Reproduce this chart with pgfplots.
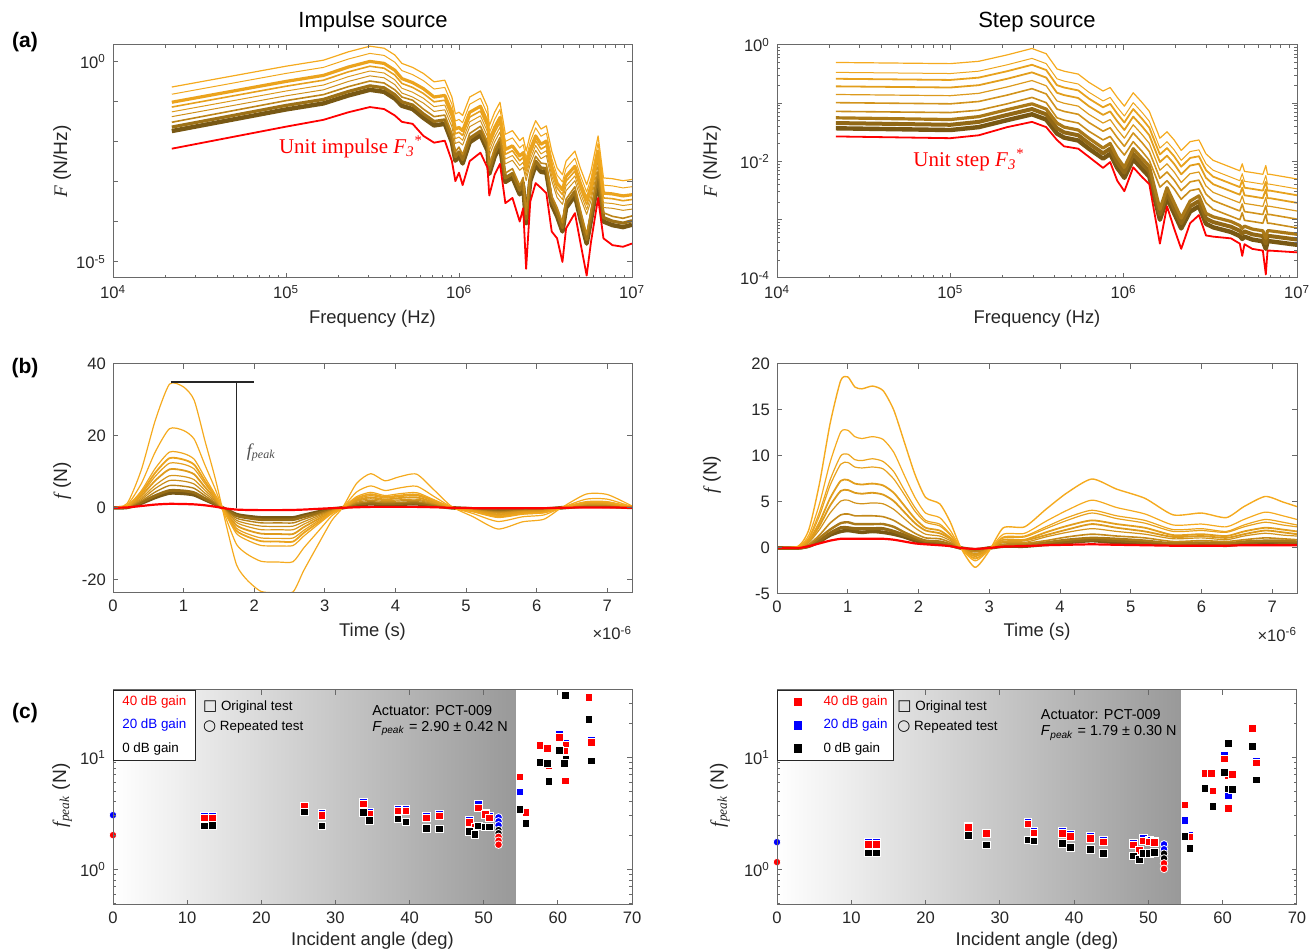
\documentclass[border=0pt]{standalone}
\usepackage{pgfplots}
\pgfplotsset{compat=1.18}
\usepackage{pgfplotstable}
\usepackage{fontspec}
\setmainfont{Liberation Sans}
\newfontfamily\tms{Liberation Serif}
\newfontfamily\dejavu{DejaVu Sans}
\definecolor{orng}{RGB}{245,170,30}
\definecolor{brwn}{RGB}{120,88,20}
\definecolor{fr}{RGB}{105,105,105}
\definecolor{tk}{RGB}{38,38,38}
\definecolor{mred}{RGB}{255,0,0}
\definecolor{mblue}{RGB}{0,0,255}

\pgfplotsset{base/.style={scale only axis, axis on top, anchor=south west, tick align=inside,
  axis line style={fr, line width=0.5pt}, every tick/.append style={fr, line width=0.5pt},
  major tick length=2.6pt, minor tick length=1.5pt,
  tick label style={font=\fontsize{8.3}{9.5}\selectfont, text=tk},
  xlabel style={font=\fontsize{9.2}{11}\selectfont, text=tk, anchor=center},
  ylabel style={font=\fontsize{9.6}{11}\selectfont, text=tk, anchor=center},
  /pgf/number format/assume math mode=true, clip mode=individual},
  cv/.style={no markers, line join=round}}

% ---------- (a) impulse spectra: log10(f), log10(F) ----------
\pgfplotstableread{
x R C1 C2 C3 C4 C5 C6 B1 B2 B3
4.340 -2.17 -0.63 -0.81 -1.01 -1.13 -1.25 -1.37 -1.51 -1.63 -1.73
5.000 -1.62 -0.11 -0.29 -0.49 -0.61 -0.73 -0.85 -0.97 -1.09 -1.19
5.216 -1.45 0.04 -0.14 -0.34 -0.46 -0.58 -0.70 -0.82 -0.94 -1.04
5.361 -1.26 0.25 0.07 -0.13 -0.25 -0.37 -0.49 -0.62 -0.74 -0.84
5.485 -1.13 0.39 0.21 0.01 -0.11 -0.23 -0.35 -0.48 -0.60 -0.70
5.567 -1.18 0.34 0.16 -0.04 -0.16 -0.28 -0.40 -0.53 -0.65 -0.75
5.629 -1.34 0.17 -0.01 -0.21 -0.33 -0.45 -0.57 -0.70 -0.82 -0.92
5.670 -1.50 -0.04 -0.22 -0.42 -0.54 -0.66 -0.78 -0.88 -1.00 -1.10
5.732 -1.55 -0.14 -0.32 -0.52 -0.64 -0.76 -0.88 -0.96 -1.08 -1.18
5.794 -1.85 -0.29 -0.47 -0.67 -0.79 -0.91 -1.03 -1.18 -1.30 -1.40
5.856 -2.02 -0.50 -0.68 -0.88 -1.00 -1.12 -1.24 -1.37 -1.49 -1.59
5.918 -1.97 -0.46 -0.64 -0.84 -0.96 -1.08 -1.20 -1.33 -1.45 -1.55
5.959 -2.48 -0.88 -1.06 -1.26 -1.38 -1.50 -1.62 -1.79 -1.91 -2.01
5.979 -2.98 -1.30 -1.48 -1.68 -1.80 -1.92 -2.04 -2.25 -2.37 -2.47
6.000 -2.77 -1.26 -1.44 -1.64 -1.76 -1.88 -2.00 -2.13 -2.25 -2.35
6.021 -3.08 -1.34 -1.52 -1.72 -1.84 -1.96 -2.08 -2.32 -2.44 -2.54
6.062 -2.48 -0.88 -1.06 -1.26 -1.38 -1.50 -1.62 -1.79 -1.91 -2.01
6.124 -2.27 -0.73 -0.91 -1.11 -1.23 -1.35 -1.47 -1.61 -1.73 -1.83
6.165 -2.65 -1.13 -1.31 -1.51 -1.63 -1.75 -1.87 -2.00 -2.12 -2.22
6.175 -3.34 -1.60 -1.78 -1.98 -2.10 -2.22 -2.34 -2.58 -2.70 -2.80
6.206 -2.82 -1.26 -1.44 -1.64 -1.76 -1.88 -2.00 -2.15 -2.27 -2.37
6.237 -2.55 -1.01 -1.19 -1.39 -1.51 -1.63 -1.75 -1.89 -2.01 -2.11
6.268 -3.53 -1.81 -1.99 -2.19 -2.31 -2.43 -2.55 -2.78 -2.90 -3.00
6.309 -3.40 -1.72 -1.90 -2.10 -2.22 -2.34 -2.46 -2.67 -2.79 -2.89
6.351 -3.99 -1.97 -2.15 -2.35 -2.47 -2.59 -2.71 -3.09 -3.21 -3.31
6.371 -3.66 -1.89 -2.07 -2.27 -2.39 -2.51 -2.63 -2.89 -3.01 -3.11
6.388 -5.17 -2.23 -2.41 -2.61 -2.73 -2.85 -2.97 -3.81 -3.93 -4.03
6.412 -3.49 -1.81 -1.99 -2.19 -2.31 -2.43 -2.55 -2.76 -2.88 -2.98
6.443 -3.03 -1.47 -1.65 -1.85 -1.97 -2.09 -2.21 -2.36 -2.48 -2.58
6.474 -3.15 -1.68 -1.86 -2.06 -2.18 -2.30 -2.42 -2.53 -2.65 -2.75
6.505 -3.28 -1.60 -1.78 -1.98 -2.10 -2.22 -2.34 -2.55 -2.67 -2.77
6.536 -4.24 -2.23 -2.41 -2.61 -2.73 -2.85 -2.97 -3.35 -3.47 -3.57
6.567 -4.41 -2.65 -2.83 -3.03 -3.15 -3.27 -3.39 -3.64 -3.76 -3.86
6.598 -5.00 -2.82 -3.00 -3.20 -3.32 -3.44 -3.56 -4.02 -4.14 -4.24
6.619 -4.16 -2.48 -2.66 -2.86 -2.98 -3.10 -3.22 -3.43 -3.55 -3.65
6.670 -3.78 -2.23 -2.41 -2.61 -2.73 -2.85 -2.97 -3.12 -3.24 -3.34
6.701 -4.50 -2.65 -2.83 -3.03 -3.15 -3.27 -3.39 -3.69 -3.81 -3.91
6.738 -5.34 -3.07 -3.25 -3.45 -3.57 -3.69 -3.81 -4.32 -4.44 -4.54
6.763 -4.50 -2.73 -2.91 -3.11 -3.23 -3.35 -3.47 -3.73 -3.85 -3.95
6.804 -3.40 -1.85 -2.03 -2.23 -2.35 -2.47 -2.59 -2.74 -2.86 -2.96
6.835 -4.41 -2.90 -3.08 -3.28 -3.40 -3.52 -3.64 -3.77 -3.89 -3.99
6.887 -4.58 -2.92 -3.10 -3.30 -3.42 -3.54 -3.66 -3.86 -3.98 -4.08
6.948 -4.62 -2.97 -3.15 -3.35 -3.47 -3.59 -3.71 -3.91 -4.03 -4.13
7.000 -4.54 -2.94 -3.12 -3.32 -3.44 -3.56 -3.68 -3.85 -3.97 -4.07
}\tabAL

% ---------- (a) step spectra ----------
\pgfplotstableread{
x R S1 S2 S3 S4 S5 S6 S7 S8 S9 S10
4.340 -1.57 -0.30 -0.47 -0.58 -0.71 -0.85 -0.99 -1.14 -1.25 -1.34 -1.43
5.000 -1.60 -0.32 -0.49 -0.60 -0.73 -0.87 -1.01 -1.16 -1.28 -1.37 -1.46
5.164 -1.55 -0.28 -0.45 -0.56 -0.69 -0.83 -0.97 -1.12 -1.23 -1.32 -1.41
5.328 -1.41 -0.17 -0.34 -0.45 -0.58 -0.72 -0.86 -1.01 -1.11 -1.20 -1.29
5.471 -1.32 -0.06 -0.23 -0.34 -0.47 -0.61 -0.75 -0.90 -1.01 -1.10 -1.19
5.553 -1.41 -0.15 -0.32 -0.43 -0.56 -0.70 -0.84 -0.99 -1.10 -1.19 -1.28
5.615 -1.63 -0.41 -0.58 -0.69 -0.82 -0.96 -1.10 -1.25 -1.34 -1.43 -1.52
5.656 -1.74 -0.45 -0.62 -0.73 -0.86 -1.00 -1.14 -1.29 -1.41 -1.50 -1.59
5.738 -1.78 -0.50 -0.67 -0.78 -0.91 -1.05 -1.19 -1.34 -1.46 -1.55 -1.64
5.799 -1.92 -0.64 -0.81 -0.92 -1.05 -1.19 -1.33 -1.48 -1.60 -1.69 -1.78
5.881 -2.11 -0.79 -0.96 -1.07 -1.20 -1.34 -1.48 -1.63 -1.77 -1.86 -1.95
5.922 -2.01 -0.73 -0.90 -1.01 -1.14 -1.28 -1.42 -1.57 -1.69 -1.78 -1.87
5.963 -2.33 -0.90 -1.07 -1.18 -1.31 -1.45 -1.59 -1.74 -1.93 -2.02 -2.11
6.004 -2.51 -1.05 -1.22 -1.33 -1.46 -1.60 -1.74 -1.89 -2.10 -2.19 -2.28
6.055 -2.10 -0.82 -0.99 -1.10 -1.23 -1.37 -1.51 -1.66 -1.78 -1.87 -1.96
6.107 -2.27 -0.99 -1.16 -1.27 -1.40 -1.54 -1.68 -1.83 -1.95 -2.04 -2.13
6.148 -2.39 -1.14 -1.31 -1.42 -1.55 -1.69 -1.83 -1.98 -2.08 -2.17 -2.26
6.209 -3.41 -1.60 -1.77 -1.88 -2.01 -2.15 -2.29 -2.44 -2.82 -2.91 -3.00
6.250 -2.77 -1.49 -1.66 -1.77 -1.90 -2.04 -2.18 -2.33 -2.45 -2.54 -2.63
6.291 -3.15 -1.63 -1.80 -1.91 -2.04 -2.18 -2.32 -2.47 -2.71 -2.80 -2.89
6.332 -3.50 -1.81 -1.98 -2.09 -2.22 -2.36 -2.50 -2.65 -2.97 -3.06 -3.15
6.383 -3.06 -1.66 -1.83 -1.94 -2.07 -2.21 -2.35 -2.50 -2.68 -2.77 -2.86
6.434 -2.92 -1.63 -1.80 -1.91 -2.04 -2.18 -2.32 -2.47 -2.59 -2.68 -2.77
6.475 -3.27 -1.87 -2.04 -2.15 -2.28 -2.42 -2.56 -2.71 -2.89 -2.98 -3.07
6.516 -3.29 -1.98 -2.15 -2.26 -2.39 -2.53 -2.67 -2.82 -2.95 -3.04 -3.13
6.619 -3.32 -2.10 -2.27 -2.38 -2.51 -2.65 -2.79 -2.94 -3.03 -3.12 -3.21
6.670 -3.41 -2.16 -2.33 -2.44 -2.57 -2.71 -2.85 -3.00 -3.10 -3.19 -3.28
6.684 -3.62 -2.04 -2.21 -2.32 -2.45 -2.59 -2.73 -2.88 -3.15 -3.24 -3.33
6.697 -3.42 -2.17 -2.34 -2.45 -2.58 -2.72 -2.86 -3.01 -3.11 -3.20 -3.29
6.742 -3.50 -2.19 -2.36 -2.47 -2.60 -2.74 -2.88 -3.03 -3.16 -3.25 -3.34
6.803 -3.53 -2.22 -2.39 -2.50 -2.63 -2.77 -2.91 -3.06 -3.19 -3.28 -3.37
6.820 -3.94 -2.07 -2.24 -2.35 -2.48 -2.62 -2.76 -2.91 -3.32 -3.41 -3.50
6.830 -3.53 -2.22 -2.39 -2.50 -2.63 -2.77 -2.91 -3.06 -3.19 -3.28 -3.37
6.844 -3.53 -2.22 -2.39 -2.50 -2.63 -2.77 -2.91 -3.06 -3.19 -3.28 -3.37
7.000 -3.56 -2.30 -2.47 -2.58 -2.71 -2.85 -2.99 -3.14 -3.25 -3.34 -3.43
}\tabAR

% ---------- (b) impulse time signals (t in 1e-6 s) ----------
\pgfplotstableread{
t A a64 a45 a40 a36 a31 a26 a22 a18 a14 a12 R
0 0 0 0 0 0 0 0 0 0 0 0 0
0.2 1.2 0.8 0.5 0.5 0.4 0.4 0.3 0.3 0.2 0.2 0.1 0.1
0.4 10.5 6.7 4.7 4.2 3.8 3.3 2.7 2.3 1.9 1.5 1.3 0.5
0.6 24.4 15.6 11.0 9.8 8.8 7.6 6.3 5.4 4.4 3.4 2.9 0.9
0.8 34.4 22.0 15.5 13.8 12.4 10.7 8.9 7.6 6.2 4.8 4.1 1.1
1.0 33.6 21.5 15.1 13.4 12.1 10.4 8.7 7.4 6.0 4.7 4.0 1.05
1.15 29.9 19.1 13.5 12.0 10.8 9.3 7.8 6.6 5.4 4.2 3.6 0.95
1.3 18.8 12.0 8.5 7.5 6.8 5.8 4.9 4.1 3.4 2.6 2.3 0.7
1.45 8.0 5.1 3.6 3.2 2.9 2.5 2.1 1.8 1.4 1.1 1.0 0.3
1.6 -4.5 -2.9 -2.0 -1.8 -1.6 -1.4 -1.2 -1.0 -0.8 -0.6 -0.5 -0.2
1.75 -15.9 -10.2 -7.2 -6.4 -5.7 -4.9 -4.1 -3.5 -2.9 -2.2 -1.9 -0.5
1.9 -20.1 -12.9 -9.0 -8.0 -7.2 -6.2 -5.2 -4.4 -3.6 -2.8 -2.4 -0.6
2.1 -23.3 -14.9 -10.5 -9.3 -8.4 -7.2 -6.1 -5.1 -4.2 -3.3 -2.8 -0.65
2.35 -23.6 -15.1 -10.6 -9.4 -8.5 -7.3 -6.1 -5.2 -4.2 -3.3 -2.8 -0.65
2.55 -23.4 -15.0 -10.5 -9.4 -8.4 -7.3 -6.1 -5.1 -4.2 -3.3 -2.8 -0.6
2.7 -17.5 -11.2 -7.9 -7.0 -6.3 -5.4 -4.6 -3.9 -3.2 -2.5 -2.1 -0.5
2.9 -10.4 -6.7 -4.7 -4.2 -3.7 -3.2 -2.7 -2.3 -1.9 -1.5 -1.2 -0.3
3.1 -3.5 -2.2 -1.6 -1.4 -1.3 -1.1 -0.9 -0.8 -0.6 -0.5 -0.4 -0.1
3.25 0 0 0 0 0 0 0 0 0 0 0 0
3.45 6.8 4.4 3.1 2.7 2.4 2.1 1.8 1.5 1.2 1.0 0.8 0.15
3.65 9.5 6.1 4.3 3.8 3.4 2.9 2.5 2.1 1.7 1.3 1.1 0.25
3.85 7.5 4.8 3.4 3.0 2.7 2.3 2.0 1.7 1.4 1.1 0.9 0.25
4.05 8.6 5.5 3.9 3.4 3.1 2.7 2.2 1.9 1.5 1.2 1.0 0.25
4.3 9.35 6.0 4.2 3.7 3.4 2.9 2.4 2.1 1.7 1.3 1.1 0.25
4.55 4.9 3.1 2.2 2.0 1.8 1.5 1.3 1.1 0.9 0.7 0.6 0.15
4.8 0.3 0.2 0.1 0.1 0.1 0.1 0.1 0.1 0.1 0.0 0.0 0
5.1 -2.5 -1.6 -1.1 -1.0 -0.9 -0.8 -0.7 -0.6 -0.5 -0.4 -0.3 -0.1
5.45 -5.9 -3.8 -2.7 -2.4 -2.1 -1.8 -1.5 -1.3 -1.1 -0.8 -0.7 -0.15
5.8 -3.9 -2.5 -1.8 -1.6 -1.4 -1.2 -1.0 -0.9 -0.7 -0.5 -0.5 -0.1
6.1 -3.2 -2.0 -1.4 -1.3 -1.2 -1.0 -0.8 -0.7 -0.6 -0.4 -0.4 -0.1
6.35 0 0 0 0 0 0 0 0 0 0 0 0
6.7 3.8 2.4 1.7 1.5 1.4 1.2 1.0 0.8 0.7 0.5 0.5 0.1
7.0 3.7 2.4 1.7 1.5 1.3 1.1 1.0 0.8 0.7 0.5 0.4 0.1
7.35 0.5 0.3 0.2 0.2 0.2 0.2 0.1 0.1 0.1 0.1 0.1 0
}\tabBL

% ---------- (b) step time signals ----------
\pgfplotstableread{
t A b69 b55 b50 b40 b34 b28 b20 b15 b12 b10 R
0 0 0 0 0 0 0 0 0 0 0 0 0
0.3 0.2 0.1 0.1 0.1 0.1 0.1 0.1 0.0 0.0 0.0 0.0 0.0
0.45 2.0 1.4 1.1 1.0 0.8 0.7 0.6 0.4 0.3 0.2 0.2 0.2
0.6 7.0 4.8 3.9 3.5 2.8 2.4 2.0 1.4 1.1 0.8 0.7 0.5
0.75 13.5 9.3 7.4 6.8 5.4 4.6 3.8 2.7 2.0 1.6 1.4 0.8
0.9 18.2 12.6 10.0 9.1 7.3 6.2 5.1 3.6 2.7 2.2 1.8 1.0
1.0 18.6 12.8 10.2 9.3 7.4 6.3 5.2 3.7 2.8 2.2 1.9 1.0
1.1 17.5 12.1 9.6 8.8 7.0 6.0 4.9 3.5 2.6 2.1 1.8 1.0
1.2 17.3 11.9 9.5 8.7 6.9 5.9 4.8 3.5 2.6 2.1 1.7 1.0
1.35 17.6 12.1 9.7 8.8 7.0 6.0 4.9 3.5 2.6 2.1 1.8 1.0
1.5 17.1 11.8 9.4 8.6 6.8 5.8 4.8 3.4 2.6 2.1 1.7 1.0
1.65 15.0 10.4 8.3 7.5 6.0 5.1 4.2 3.0 2.3 1.8 1.5 0.9
1.8 11.5 7.9 6.3 5.8 4.6 3.9 3.2 2.3 1.7 1.4 1.2 0.7
1.95 8.0 5.5 4.4 4.0 3.2 2.7 2.2 1.6 1.2 1.0 0.8 0.5
2.1 5.5 3.8 3.0 2.8 2.2 1.9 1.5 1.1 0.8 0.7 0.6 0.4
2.3 4.8 3.3 2.6 2.4 1.9 1.6 1.3 1.0 0.7 0.6 0.5 0.3
2.45 2.8 1.9 1.5 1.4 1.1 1.0 0.8 0.6 0.4 0.3 0.3 0.2
2.6 0 0 0 0 0 0 0 0 0 0 0 0
2.8 -2.1 -1.4 -1.2 -1.1 -0.9 -0.7 -0.6 -0.4 -0.3 -0.3 -0.2 -0.1
3.0 -0.3 -0.2 -0.2 -0.2 -0.1 -0.1 -0.1 -0.1 0.0 0.0 0.0 0.0
3.2 2.2 1.5 1.2 1.1 0.9 0.7 0.6 0.4 0.3 0.3 0.2 0.15
3.5 2.3 1.6 1.3 1.2 0.9 0.8 0.6 0.5 0.3 0.3 0.2 0.2
3.8 4.2 2.9 2.3 2.1 1.7 1.4 1.2 0.8 0.6 0.5 0.4 0.3
4.1 6.0 4.1 3.3 3.0 2.4 2.0 1.7 1.2 0.9 0.7 0.6 0.35
4.45 7.5 5.2 4.1 3.8 3.0 2.6 2.1 1.5 1.1 0.9 0.8 0.4
4.8 6.4 4.4 3.5 3.2 2.6 2.2 1.8 1.3 1.0 0.8 0.6 0.35
5.2 5.4 3.7 3.0 2.7 2.2 1.8 1.5 1.1 0.8 0.6 0.5 0.3
5.6 3.6 2.5 2.0 1.8 1.4 1.2 1.0 0.7 0.5 0.4 0.4 0.25
6.0 3.8 2.6 2.1 1.9 1.5 1.3 1.1 0.8 0.6 0.5 0.4 0.25
6.35 3.3 2.3 1.8 1.7 1.3 1.1 0.9 0.7 0.5 0.4 0.3 0.25
6.6 4.5 3.1 2.5 2.3 1.8 1.5 1.3 0.9 0.7 0.5 0.5 0.3
6.9 5.6 3.9 3.1 2.8 2.2 1.9 1.6 1.1 0.8 0.7 0.6 0.3
7.15 5.0 3.5 2.8 2.5 2.0 1.7 1.4 1.0 0.8 0.6 0.5 0.3
7.35 4.5 3.1 2.5 2.3 1.8 1.5 1.3 0.9 0.7 0.5 0.5 0.3
}\tabBR

\begin{document}
\begin{tikzpicture}
\path[use as bounding box] (0,0) rectangle (658pt,476pt);

% titles and panel letters
\node[font=\fontsize{11}{13}\selectfont, text=black] at (186.5pt,465pt) {Impulse source};
\node[font=\fontsize{11}{13}\selectfont, text=black] at (518.5pt,465pt) {Step source};
\node[font=\bfseries\fontsize{10.5}{12}\selectfont] at (12.5pt,455pt) {(a)};
\node[font=\bfseries\fontsize{10.5}{12}\selectfont] at (12.5pt,292pt) {(b)};
\node[font=\bfseries\fontsize{10.5}{12}\selectfont] at (12.5pt,119.5pt) {(c)};

% ================= (a) left =================
\begin{axis}[base, at={(56.5pt,337pt)}, width=259.5pt, height=116.5pt,
  xmin=4, xmax=7, ymin=-5.4, ymax=0.42,
  xtick={4,5,6,7}, xticklabels={10\textsuperscript{4},10\textsuperscript{5},10\textsuperscript{6},10\textsuperscript{7}},
  minor xtick={4.301,4.477,4.602,4.699,4.778,4.845,4.903,4.954,5.301,5.477,5.602,5.699,5.778,5.845,5.903,5.954,6.301,6.477,6.602,6.699,6.778,6.845,6.903,6.954},
  ytick={-5,-4,-3,-2,-1,0}, yticklabels={10\textsuperscript{-5},,,,,10\textsuperscript{0}},
  xlabel={Frequency (Hz)}, ylabel={{\tms\itshape F} (N/Hz)},
  xlabel style={at={(axis description cs:0.5,-0.176)}},
  ylabel style={at={(axis description cs:-0.098,0.5)}}]
\addplot[cv, color=brwn, line width=2.2pt] table[x=x,y=B3]{\tabAL};
\addplot[cv, color=orng!30!brwn, line width=1.6pt] table[x=x,y=B2]{\tabAL};
\addplot[cv, color=orng!55!brwn, line width=0.8pt] table[x=x,y=B1]{\tabAL};
\addplot[cv, color=orng!70!brwn, line width=0.5pt] table[x=x,y=C6]{\tabAL};
\addplot[cv, color=orng!80!brwn, line width=0.5pt] table[x=x,y=C5]{\tabAL};
\addplot[cv, color=orng!88!brwn, line width=0.8pt] table[x=x,y=C4]{\tabAL};
\addplot[cv, color=orng!92!brwn, line width=1.6pt] table[x=x,y=C3]{\tabAL};
\addplot[cv, color=orng!97!brwn, line width=0.5pt] table[x=x,y=C2]{\tabAL};
\addplot[cv, color=orng, line width=0.6pt] table[x=x,y=C1]{\tabAL};
\addplot[cv, color=mred, line width=0.9pt] table[x=x,y=R]{\tabAL};
\node[font=\tms\fontsize{10.5}{12}\selectfont, text=mred] at (axis cs:5.376,-2.125) {Unit impulse \textit{F}\textsubscript{\textit{3}}\textsuperscript{*}};
\end{axis}

% ================= (a) right =================
\begin{axis}[base, at={(388.5pt,337pt)}, width=260pt, height=116.5pt,
  xmin=4, xmax=7, ymin=-4, ymax=0,
  xtick={4,5,6,7}, xticklabels={10\textsuperscript{4},10\textsuperscript{5},10\textsuperscript{6},10\textsuperscript{7}},
  minor xtick={4.301,4.477,4.602,4.699,4.778,4.845,4.903,4.954,5.301,5.477,5.602,5.699,5.778,5.845,5.903,5.954,6.301,6.477,6.602,6.699,6.778,6.845,6.903,6.954},
  ytick={-4,-3,-2,-1,0}, yticklabels={10\textsuperscript{-4},,10\textsuperscript{-2},,10\textsuperscript{0}},
  minor ytick={-3.699,-3.523,-3.398,-3.301,-3.222,-3.155,-3.097,-3.046,-2.699,-2.523,-2.398,-2.301,-2.222,-2.155,-2.097,-2.046,-1.699,-1.523,-1.398,-1.301,-1.222,-1.155,-1.097,-1.046,-0.699,-0.523,-0.398,-0.301,-0.222,-0.155,-0.097,-0.046},
  xlabel={Frequency (Hz)}, ylabel={{\tms\itshape F} (N/Hz)},
  xlabel style={at={(axis description cs:0.5,-0.176)}},
  ylabel style={at={(axis description cs:-0.125,0.5)}}]
\addplot[cv, color=brwn, line width=2.2pt] table[x=x,y=S10]{\tabAR};
\addplot[cv, color=orng!20!brwn, line width=2pt] table[x=x,y=S9]{\tabAR};
\addplot[cv, color=orng!40!brwn, line width=1.6pt] table[x=x,y=S8]{\tabAR};
\addplot[cv, color=orng!65!brwn, line width=0.8pt] table[x=x,y=S7]{\tabAR};
\addplot[cv, color=orng!72!brwn, line width=0.8pt] table[x=x,y=S6]{\tabAR};
\addplot[cv, color=orng!80!brwn, line width=0.6pt] table[x=x,y=S5]{\tabAR};
\addplot[cv, color=orng!85!brwn, line width=0.9pt] table[x=x,y=S4]{\tabAR};
\addplot[cv, color=orng!90!brwn, line width=0.9pt] table[x=x,y=S3]{\tabAR};
\addplot[cv, color=orng!95!brwn, line width=0.5pt] table[x=x,y=S2]{\tabAR};
\addplot[cv, color=orng, line width=0.6pt] table[x=x,y=S1]{\tabAR};
\addplot[cv, color=mred, line width=0.9pt] table[x=x,y=R]{\tabAR};
\node[font=\tms\fontsize{10.5}{12}\selectfont, text=mred] at (axis cs:5.108,-1.97) {Unit step \textit{F}\textsubscript{\textit{3}}\textsuperscript{*}};
\end{axis}

% ================= (b) left =================
\begin{axis}[base, at={(56.5pt,179.5pt)}, width=259.5pt, height=114.5pt,
  xmin=0, xmax=7.35, ymin=-23.7, ymax=40,
  xtick={0,1,...,7}, ytick={-20,0,20,40},
  xlabel={Time (s)}, ylabel={{\tms\itshape f} (N)},
  xlabel style={at={(axis description cs:0.5,-0.17)}},
  ylabel style={at={(axis description cs:-0.098,0.49)}}]
\addplot[cv, smooth, tension=0.4, color=brwn, line width=1.8pt] table[x=t,y=a12]{\tabBL};
\addplot[cv, smooth, tension=0.4, color=orng!25!brwn, line width=1.4pt] table[x=t,y=a14]{\tabBL};
\addplot[cv, smooth, tension=0.4, color=orng!50!brwn, line width=0.7pt] table[x=t,y=a18]{\tabBL};
\addplot[cv, smooth, tension=0.4, color=orng!65!brwn, line width=0.6pt] table[x=t,y=a22]{\tabBL};
\addplot[cv, smooth, tension=0.4, color=orng!75!brwn, line width=0.6pt] table[x=t,y=a26]{\tabBL};
\addplot[cv, smooth, tension=0.4, color=orng!82!brwn, line width=0.9pt] table[x=t,y=a31]{\tabBL};
\addplot[cv, smooth, tension=0.4, color=orng!87!brwn, line width=0.6pt] table[x=t,y=a36]{\tabBL};
\addplot[cv, smooth, tension=0.4, color=orng!92!brwn, line width=0.9pt] table[x=t,y=a40]{\tabBL};
\addplot[cv, smooth, tension=0.4, color=orng!96!brwn, line width=0.6pt] table[x=t,y=a45]{\tabBL};
\addplot[cv, smooth, tension=0.4, color=orng, line width=0.6pt] table[x=t,y=a64]{\tabBL};
\addplot[cv, smooth, tension=0.4, color=orng, line width=0.6pt] table[x=t,y=A]{\tabBL};
\addplot[cv, smooth, tension=0.4, color=mred, line width=1.1pt] table[x=t,y=R]{\tabBL};
\draw[black!85, line width=0.9pt] (axis cs:0.82,35) -- (axis cs:2.0,35);
\draw[black!85, line width=0.9pt] (axis cs:1.75,35) -- (axis cs:1.75,0);
\node[font=\tms\itshape\fontsize{9}{10}\selectfont, text=black!70] at (axis cs:2.1,15.5) {f\textsubscript{peak}};
\node[font=\fontsize{8.3}{9.5}\selectfont, text=tk] at (rel axis cs:0.962,-0.175) {×10\textsuperscript{-6}};
\end{axis}

% ================= (b) right =================
\begin{axis}[base, at={(388.5pt,179pt)}, width=260pt, height=115pt,
  xmin=0, xmax=7.35, ymin=-5, ymax=20,
  xtick={0,1,...,7}, ytick={-5,0,5,10,15,20},
  xlabel={Time (s)}, ylabel={{\tms\itshape f} (N)},
  xlabel style={at={(axis description cs:0.5,-0.165)}},
  ylabel style={at={(axis description cs:-0.125,0.52)}}]
\addplot[cv, smooth, tension=0.4, color=brwn, line width=1.8pt] table[x=t,y=b10]{\tabBR};
\addplot[cv, smooth, tension=0.4, color=orng!20!brwn, line width=1.6pt] table[x=t,y=b12]{\tabBR};
\addplot[cv, smooth, tension=0.4, color=orng!40!brwn, line width=1.2pt] table[x=t,y=b15]{\tabBR};
\addplot[cv, smooth, tension=0.4, color=orng!60!brwn, line width=0.8pt] table[x=t,y=b20]{\tabBR};
\addplot[cv, smooth, tension=0.4, color=orng!72!brwn, line width=0.6pt] table[x=t,y=b28]{\tabBR};
\addplot[cv, smooth, tension=0.4, color=orng!80!brwn, line width=0.9pt] table[x=t,y=b34]{\tabBR};
\addplot[cv, smooth, tension=0.4, color=orng!85!brwn, line width=0.9pt] table[x=t,y=b40]{\tabBR};
\addplot[cv, smooth, tension=0.4, color=orng!90!brwn, line width=0.6pt] table[x=t,y=b50]{\tabBR};
\addplot[cv, smooth, tension=0.4, color=orng!94!brwn, line width=0.6pt] table[x=t,y=b55]{\tabBR};
\addplot[cv, smooth, tension=0.4, color=orng, line width=0.6pt] table[x=t,y=b69]{\tabBR};
\addplot[cv, smooth, tension=0.4, color=orng, line width=0.7pt] table[x=t,y=A]{\tabBR};
\addplot[cv, smooth, tension=0.4, color=mred, line width=1.1pt] table[x=t,y=R]{\tabBR};
\node[font=\fontsize{8.3}{9.5}\selectfont, text=tk] at (rel axis cs:0.962,-0.175) {×10\textsuperscript{-6}};
\end{axis}

% ================= (c) left =================
\begin{axis}[base, at={(56.5pt,23.5pt)}, width=259.5pt, height=107.5pt,
  ymode=log, xmin=0, xmax=70, ymin=0.48, ymax=40,
  xtick={0,10,...,70}, ytick={1,10}, yticklabels={10\textsuperscript{0},10\textsuperscript{1}},
  minor ytick={0.5,0.6,0.7,0.8,0.9,2,3,4,5,6,7,8,9,20,30,40},
  xlabel={Incident angle (deg)}, ylabel={{\tms\itshape f}\textsubscript{\tms\itshape peak} (N)},
  xlabel style={at={(axis description cs:0.5,-0.167)}},
  ylabel style={at={(axis description cs:-0.098,0.51)}},
  legend style={at={(0,1)}, anchor=north west, draw=black!85, line width=0.5pt, fill=white,
    font=\fontsize{6.7}{8}\selectfont, inner xsep=2.4pt, inner ysep=0.6pt, row sep=1.3pt},
  legend cell align=left]
\fill[left color=white, right color=black!40] (axis cs:0,0.48) rectangle (axis cs:54.3,40);
\addplot[forget plot, only marks, mark=square*, mark size=1.9pt, mark options={fill=mblue, draw=white, line width=0.4pt}] coordinates {(12.3,3.0)(13.4,3.0)(28.2,3.15)(33.8,4.0)(34.6,3.25)(38.4,3.42)(39.5,3.42)(42.3,2.98)(44.0,3.08)(48.1,2.75)(49.3,3.85)(50.2,3.2)(50.8,2.98)(54.9,4.93)(55.7,3.33)(60.2,16.0)(61.1,13.3)(64.5,14.2)};
\addplot[forget plot, only marks, mark=square*, mark size=1.9pt, mark options={fill=mred, draw=white, line width=0.4pt}] coordinates {(12.3,2.89)(13.4,2.89)(25.8,3.70)(28.2,3.05)(33.8,3.83)(34.6,3.12)(38.4,3.32)(39.5,3.32)(42.3,2.89)(44.0,2.99)(48.1,2.63)(48.8,2.39)(49.3,3.55)(50.2,3.10)(50.8,2.89)(54.9,6.71)(55.7,3.23)(57.6,12.8)(58.6,12.1)(58.8,8.37)(60.2,15.1)(61.1,12.8)(60.9,11.4)(61.0,6.14)(64.2,34.3)(64.5,13.6)};
\addplot[forget plot, only marks, mark=square*, mark size=1.9pt, mark options={fill=black, draw=white, line width=0.4pt}] coordinates {(12.3,2.45)(13.4,2.46)(25.8,3.27)(28.2,2.45)(33.8,3.23)(34.6,2.75)(38.4,2.81)(39.5,2.66)(42.3,2.32)(44.0,2.30)(48.1,2.17)(48.8,2.05)(49.3,2.45)(50.2,2.40)(50.8,2.40)(54.9,3.45)(55.7,2.58)(57.6,9.0)(58.6,8.8)(58.8,6.11)(60.2,11.6)(61.1,9.6)(60.9,8.8)(61.0,36.0)(64.2,21.8)(64.5,9.27)};
\addplot[forget plot, only marks, mark=*, mark size=1.9pt, mark options={fill=mblue, draw=white, line width=0.4pt}] coordinates {(0,3.05)(52,2.91)(52,2.68)(52,2.47)};
\addplot[forget plot, only marks, mark=*, mark size=1.9pt, mark options={fill=black, draw=white, line width=0.4pt}] coordinates {(52,2.24)(52,2.10)};
\addplot[forget plot, only marks, mark=*, mark size=1.9pt, mark options={fill=mred, draw=white, line width=0.4pt}] coordinates {(0,2.02)(52,1.95)(52,1.80)(52,1.66)};
\addlegendimage{empty legend}\addlegendentry{\textcolor{mred}{40 dB gain}}
\addlegendimage{empty legend}\addlegendentry{\textcolor{mblue}{20 dB gain}}
\addlegendimage{empty legend}\addlegendentry{\textcolor{black}{0 dB gain}}
\node[anchor=west, font=\fontsize{6.7}{8}\selectfont] at (rel axis cs:0.160,0.921) {{\dejavu\fontsize{7.5}{8}\selectfont □}\ Original test};
\node[anchor=west, font=\fontsize{6.7}{8}\selectfont] at (rel axis cs:0.160,0.828) {{\dejavu\fontsize{7.5}{8}\selectfont ○}\ Repeated test};
\node[anchor=west, font=\fontsize{7.2}{8.5}\selectfont] at (rel axis cs:0.486,0.905) {Actuator: PCT-009};
\node[anchor=west, font=\fontsize{7.2}{8.5}\selectfont] at (rel axis cs:0.486,0.82) {\textit{F}\textsubscript{\textit{peak}} = 2.90 ± 0.42 N};
\end{axis}

% ================= (c) right =================
\begin{axis}[base, at={(388.5pt,23.5pt)}, width=260pt, height=107.5pt,
  ymode=log, xmin=0, xmax=70, ymin=0.48, ymax=40,
  xtick={0,10,...,70}, ytick={1,10}, yticklabels={10\textsuperscript{0},10\textsuperscript{1}},
  minor ytick={0.5,0.6,0.7,0.8,0.9,2,3,4,5,6,7,8,9,20,30,40},
  xlabel={Incident angle (deg)}, ylabel={{\tms\itshape f}\textsubscript{\tms\itshape peak} (N)},
  xlabel style={at={(axis description cs:0.5,-0.167)}},
  ylabel style={at={(axis description cs:-0.11,0.51)}},
  legend style={at={(0,1)}, anchor=north west, draw=black!85, line width=0.5pt, fill=white,
    font=\fontsize{6.7}{8}\selectfont, inner xsep=1pt, inner ysep=0.6pt, row sep=1.3pt},
  legend cell align=left]
\fill[left color=white, right color=black!40] (axis cs:0,0.48) rectangle (axis cs:54.3,40);
\addplot[forget plot, only marks, mark=square*, mark size=1.9pt, mark options={fill=mblue, draw=white, line width=0.4pt}] coordinates {(12.3,1.76)(13.4,1.76)(25.8,2.45)(33.8,2.65)(34.6,2.2)(38.4,2.17)(39.5,2.05)(42.2,1.97)(43.9,1.82)(48.0,1.72)(49.3,1.90)(50.1,1.82)(50.8,1.79)(54.9,2.72)(55.6,2.02)(60.2,10.4)(60.8,4.58)(64.5,9.3)};
\addplot[forget plot, only marks, mark=square*, mark size=1.9pt, mark options={fill=mred, draw=white, line width=0.4pt}] coordinates {(12.3,1.68)(13.4,1.68)(25.8,2.37)(28.2,2.10)(33.8,2.54)(34.6,2.12)(38.4,2.10)(39.5,1.98)(42.2,1.90)(43.9,1.76)(48.0,1.65)(48.8,1.48)(49.3,1.80)(50.1,1.76)(50.8,1.73)(54.9,3.75)(55.6,1.95)(57.6,7.2)(58.5,7.2)(58.7,5.03)(60.2,9.72)(60.8,6.81)(61.3,7.05)(60.8,3.51)(64.0,18.2)(64.5,8.95)};
\addplot[forget plot, only marks, mark=square*, mark size=1.9pt, mark options={fill=black, draw=white, line width=0.4pt}] coordinates {(12.3,1.40)(13.4,1.40)(25.8,2.02)(28.2,1.65)(33.8,1.83)(34.6,1.79)(38.4,1.71)(39.5,1.57)(42.2,1.51)(43.9,1.38)(48.0,1.32)(48.8,1.23)(49.3,1.38)(50.1,1.38)(50.8,1.41)(54.9,1.98)(55.6,1.54)(57.6,5.29)(58.7,3.67)(60.2,7.35)(60.8,13.3)(60.8,5.21)(61.3,5.2)(64.0,12.6)(64.5,6.27)};
\addplot[forget plot, only marks, mark=*, mark size=1.9pt, mark options={fill=mblue, draw=white, line width=0.4pt}] coordinates {(0,1.75)(52.1,1.67)(52.1,1.51)};
\addplot[forget plot, only marks, mark=*, mark size=1.9pt, mark options={fill=black, draw=white, line width=0.4pt}] coordinates {(52.1,1.38)(52.1,1.25)};
\addplot[forget plot, only marks, mark=*, mark size=1.9pt, mark options={fill=mred, draw=white, line width=0.4pt}] coordinates {(0,1.16)(52.1,1.13)(52.1,1.01)};
\addlegendimage{legend image code/.code={\path[draw=none] (0pt,0pt) -- (20pt,0pt); \fill[mred, draw=none] (7pt,-2.1pt) rectangle (11.2pt,2.1pt);}}\addlegendentry{\textcolor{mred}{40 dB gain}}
\addlegendimage{legend image code/.code={\path[draw=none] (0pt,0pt) -- (20pt,0pt); \fill[mblue, draw=none] (7pt,-2.1pt) rectangle (11.2pt,2.1pt);}}\addlegendentry{\textcolor{mblue}{20 dB gain}}
\addlegendimage{legend image code/.code={\path[draw=none] (0pt,0pt) -- (20pt,0pt); \fill[black, draw=none] (7pt,-2.1pt) rectangle (11.2pt,2.1pt);}}\addlegendentry{\textcolor{black}{0 dB gain}}
\node[anchor=west, font=\fontsize{6.7}{8}\selectfont] at (rel axis cs:0.218,0.921) {{\dejavu\fontsize{7.5}{8}\selectfont □}\ Original test};
\node[anchor=west, font=\fontsize{6.7}{8}\selectfont] at (rel axis cs:0.218,0.828) {{\dejavu\fontsize{7.5}{8}\selectfont ○}\ Repeated test};
\node[anchor=west, font=\fontsize{7.2}{8.5}\selectfont] at (rel axis cs:0.494,0.884) {Actuator: PCT-009};
\node[anchor=west, font=\fontsize{7.2}{8.5}\selectfont] at (rel axis cs:0.494,0.80) {\textit{F}\textsubscript{\textit{peak}} = 1.79 ± 0.30 N};
\end{axis}
\end{tikzpicture}
\end{document}
